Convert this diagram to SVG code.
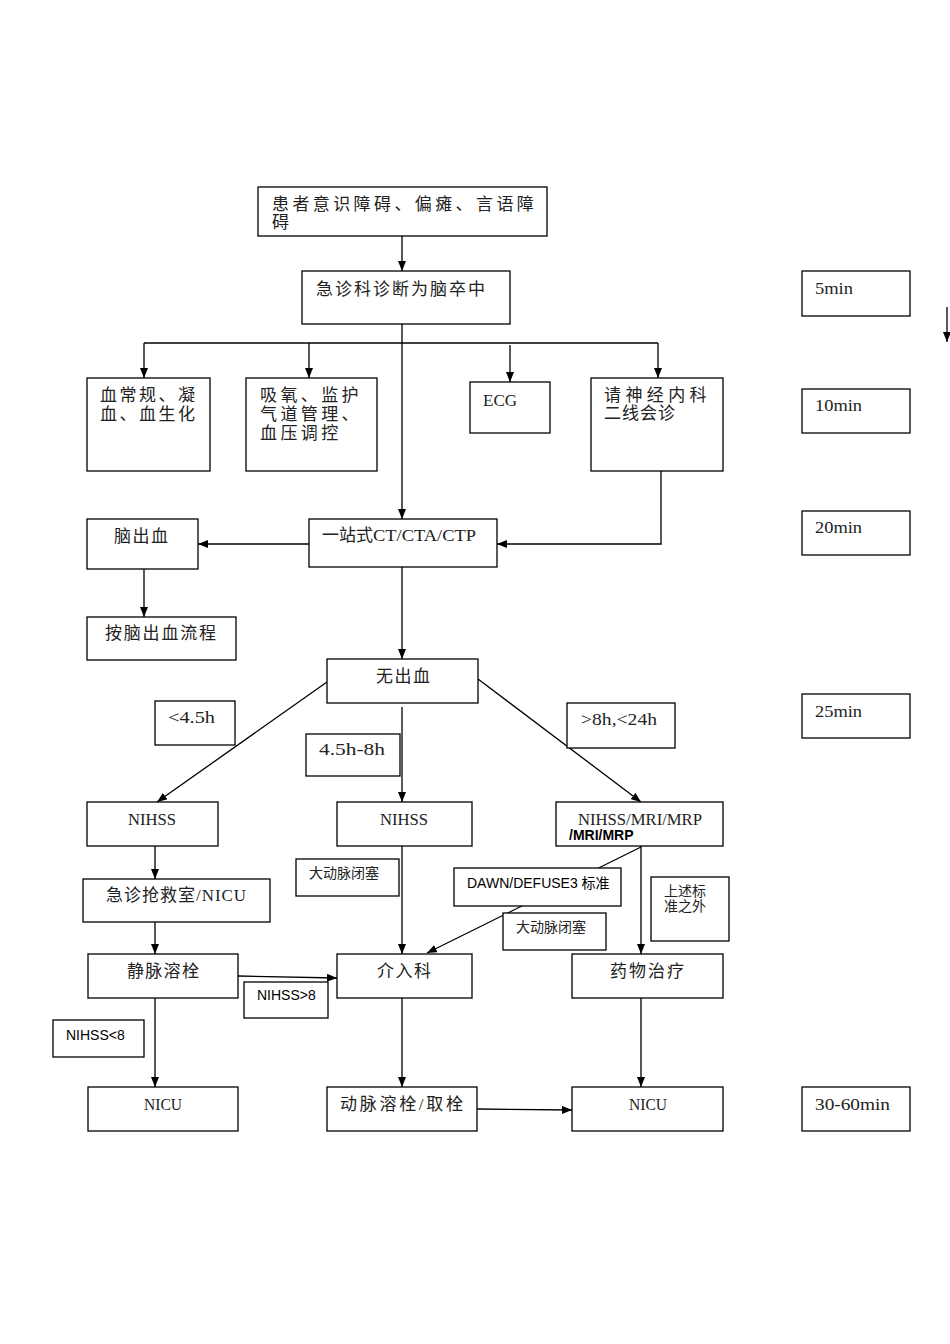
<svg xmlns="http://www.w3.org/2000/svg" width="950" height="1344" viewBox="0 0 950 1344">
<defs>
<marker id="ah" viewBox="0 0 10 8" refX="10" refY="4" markerWidth="10" markerHeight="8" markerUnits="userSpaceOnUse" orient="auto"><path d="M0,0 L10,4 L0,8 Z" fill="#000"/></marker>
<style>
.b{fill:#fff;stroke:#000;stroke-width:1.3}
.c{stroke:#000;stroke-width:1.3;fill:none}
.a{stroke:#000;stroke-width:1.3;fill:none;marker-end:url(#ah)}
.t{font-family:"Liberation Serif","Noto Sans CJK SC",serif;font-size:17px;fill:#222}
.s{font-family:"Liberation Serif","Noto Sans CJK SC",serif;font-size:14px;fill:#222}
.l{font-family:"Liberation Sans","Noto Sans CJK SC",sans-serif;font-size:14px;fill:#000}
.m{font-family:"Liberation Serif","Noto Sans CJK SC",serif;font-size:17px;fill:#222}
</style>
</defs>
<rect width="950" height="1344" fill="#fff"/>
<g id="connectors">
<path class="a" d="M402,236 V271"/>
<path class="a" d="M402,324 V519"/>
<path class="c" d="M144,343 H658"/>
<path class="a" d="M144,343 V378"/>
<path class="a" d="M309,343 V378"/>
<path class="a" d="M510,345 V382"/>
<path class="a" d="M658,343 V378"/>
<path class="a" d="M661,471 V544 H497"/>
<path class="a" d="M309,544 H198"/>
<path class="a" d="M144,569 V617"/>
<path class="a" d="M402,567 V659"/>
<path class="a" d="M327,682 L157,802"/>
<path class="a" d="M478,679 L641,802"/>
<path class="a" d="M402,707 V802"/>
<path class="a" d="M155,846 V879"/>
<path class="a" d="M155,922 V954"/>
<path class="a" d="M238,976 L337,978"/>
<path class="a" d="M155,998 V1087"/>
<path class="a" d="M402,846 V954"/>
<path class="a" d="M641,847 L427,953"/>
<path class="a" d="M641,846 V954"/>
<path class="a" d="M402,998 V1087"/>
<path class="a" d="M641,998 V1087"/>
<path class="a" d="M477,1109 L572,1110"/>
<path class="a" d="M947,307 V342"/>
</g>
<g id="n1"><rect class="b" x="258" y="187" width="289" height="49"/><text class="t" x="272" y="210" letter-spacing="3.4">患者意识障碍、偏瘫、言语障</text><text class="t" x="272" y="228">碍</text></g>
<g id="n2"><rect class="b" x="302" y="271" width="208" height="53"/><text class="t" x="316" y="295" letter-spacing="2">急诊科诊断为脑卒中</text></g>
<g id="n3"><rect class="b" x="87" y="378" width="123" height="93"/><text class="t" x="100" y="401" letter-spacing="2.5">血常规、凝</text><text class="t" x="100" y="420" letter-spacing="2.5">血、血生化</text></g>
<g id="n4"><rect class="b" x="246" y="378" width="131" height="93"/><text class="t" x="260" y="401" letter-spacing="3.4">吸氧、监护</text><text class="t" x="260" y="420" letter-spacing="3.4">气道管理、</text><text class="t" x="260" y="439" letter-spacing="3.4">血压调控</text></g>
<g id="n5"><rect class="b" x="470" y="382" width="80" height="51"/><text class="t" x="483" y="406">ECG</text></g>
<g id="n6"><rect class="b" x="591" y="378" width="132" height="93"/><text class="t" x="604" y="401" letter-spacing="4.4">请神经内科</text><text class="t" x="604" y="419" letter-spacing="1">二线会诊</text></g>
<g id="t5"><rect class="b" x="802" y="271" width="108" height="45"/><text class="m" x="815" y="294" textLength="38" lengthAdjust="spacingAndGlyphs">5min</text></g>
<g id="t10"><rect class="b" x="802" y="389" width="108" height="44"/><text class="m" x="815" y="411" textLength="47" lengthAdjust="spacingAndGlyphs">10min</text></g>
<g id="t20"><rect class="b" x="802" y="511" width="108" height="44"/><text class="m" x="815" y="533" textLength="47" lengthAdjust="spacingAndGlyphs">20min</text></g>
<g id="t25"><rect class="b" x="802" y="694" width="108" height="44"/><text class="m" x="815" y="717" textLength="47" lengthAdjust="spacingAndGlyphs">25min</text></g>
<g id="t30"><rect class="b" x="802" y="1087" width="108" height="44"/><text class="m" x="815" y="1110" textLength="75" lengthAdjust="spacingAndGlyphs">30-60min</text></g>
<g id="ct"><rect class="b" x="309" y="519" width="188" height="48"/><text class="t" x="322" y="541">一站式<tspan textLength="103" lengthAdjust="spacingAndGlyphs">CT/CTA/CTP</tspan></text></g>
<g id="ich"><rect class="b" x="87" y="519" width="111" height="50"/><text class="t" x="114" y="542" letter-spacing="1.5">脑出血</text></g>
<g id="ichflow"><rect class="b" x="87" y="617" width="149" height="43"/><text class="t" x="105" y="639" letter-spacing="1.8">按脑出血流程</text></g>
<g id="nobleed"><rect class="b" x="327" y="659" width="151" height="44"/><text class="t" x="376" y="682" letter-spacing="1.5">无出血</text></g>
<g id="lt45"><rect class="b" x="155" y="701" width="80" height="44"/><text class="m" x="168" y="723" textLength="47" lengthAdjust="spacingAndGlyphs">&lt;4.5h</text></g>
<g id="h45_8"><rect class="b" x="306" y="734" width="94" height="42"/><text class="m" x="319" y="755" textLength="66" lengthAdjust="spacingAndGlyphs">4.5h-8h</text></g>
<g id="h8_24"><rect class="b" x="567" y="703" width="108" height="45"/><text class="m" x="581" y="725" textLength="76" lengthAdjust="spacingAndGlyphs">&gt;8h,&lt;24h</text></g>
<g id="nihss1"><rect class="b" x="87" y="802" width="131" height="44"/><text class="m" x="128" y="825" textLength="48" lengthAdjust="spacingAndGlyphs">NIHSS</text></g>
<g id="nihss2"><rect class="b" x="337" y="802" width="135" height="44"/><text class="m" x="380" y="825" textLength="48" lengthAdjust="spacingAndGlyphs">NIHSS</text></g>
<g id="nihss3"><rect class="b" x="556" y="802" width="167" height="44"/><text class="m" x="578" y="825" textLength="124" lengthAdjust="spacingAndGlyphs">NIHSS/MRI/MRP</text><text class="l" x="569" y="840" font-weight="bold">/MRI/MRP</text></g>
<g id="lvo1"><rect class="b" x="296" y="859" width="103" height="37"/><text class="s" x="309" y="878">大动脉闭塞</text></g>
<g id="er"><rect class="b" x="83" y="879" width="187" height="43"/><text class="t" x="106" y="901" letter-spacing="1">急诊抢救室<tspan textLength="51" lengthAdjust="spacingAndGlyphs">/NICU</tspan></text></g>
<g id="dawn"><rect class="b" x="454" y="868" width="167" height="38"/><text class="l" x="467" y="888" font-size="13.5">DAWN/DEFUSE3 标准</text></g>
<g id="other"><rect class="b" x="651" y="877" width="78" height="64"/><text class="s" x="664" y="896">上述标</text><text class="s" x="664" y="911">准之外</text></g>
<g id="lvo2"><rect class="b" x="503" y="913" width="103" height="37"/><text class="s" x="516" y="932">大动脉闭塞</text></g>
<g id="ivt"><rect class="b" x="88" y="954" width="150" height="44"/><text class="t" x="127" y="977" letter-spacing="1.3">静脉溶栓</text></g>
<g id="ir"><rect class="b" x="337" y="954" width="135" height="44"/><text class="t" x="377" y="977" letter-spacing="1.5">介入科</text></g>
<g id="med"><rect class="b" x="572" y="954" width="151" height="44"/><text class="t" x="610" y="977" letter-spacing="2">药物治疗</text></g>
<g id="gt8"><rect class="b" x="244" y="982" width="84" height="36"/><text class="l" x="257" y="1000">NIHSS&gt;8</text></g>
<g id="lt8"><rect class="b" x="53" y="1020" width="91" height="37"/><text class="l" x="66" y="1040">NIHSS&lt;8</text></g>
<g id="nicu1"><rect class="b" x="88" y="1087" width="150" height="44"/><text class="m" x="144" y="1110" textLength="38" lengthAdjust="spacingAndGlyphs">NICU</text></g>
<g id="iat"><rect class="b" x="327" y="1087" width="150" height="44"/><text class="t" x="340" y="1110" textLength="123">动脉溶栓/取栓</text></g>
<g id="nicu2"><rect class="b" x="572" y="1087" width="151" height="44"/><text class="m" x="629" y="1110" textLength="38" lengthAdjust="spacingAndGlyphs">NICU</text></g>
</svg>
